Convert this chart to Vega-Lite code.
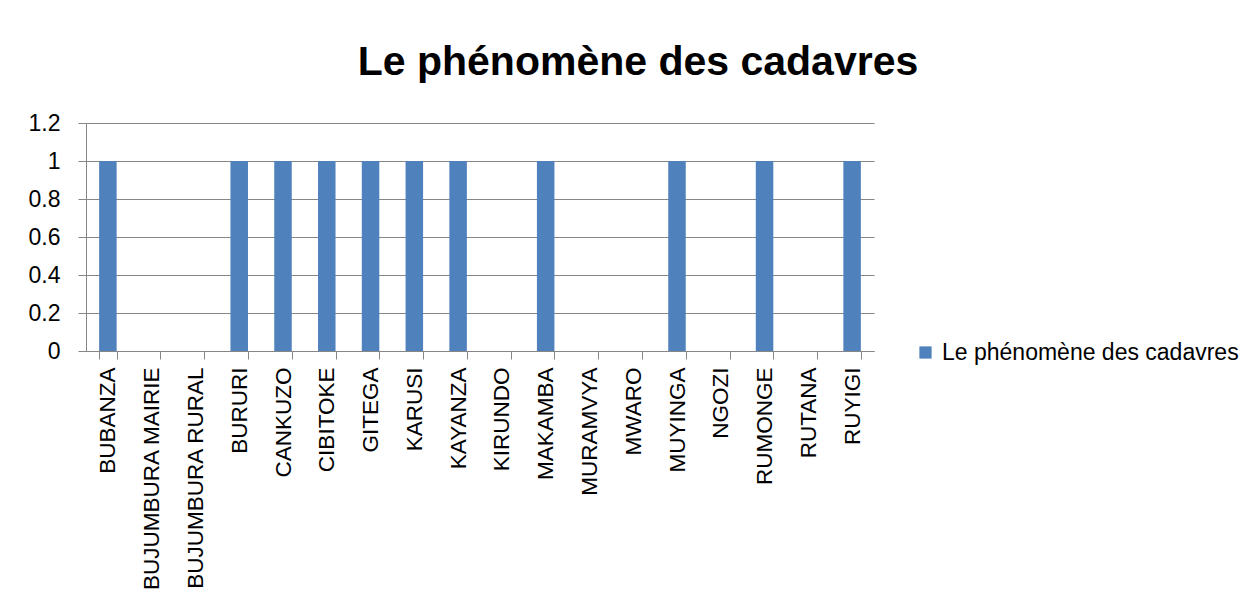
{
  "$schema": "https://vega.github.io/schema/vega-lite/v6.json",
  "autosize": {"type": "none"},
  "width": 788,
  "height": 228,
  "padding": {"left": 86, "top": 123, "right": 385, "bottom": 254},
  "background": "white",
  "title": {
    "text": "Le phénomène des cadavres",
    "font": "Liberation Sans",
    "fontSize": 41,
    "fontWeight": "bold",
    "color": "#000000",
    "anchor": "middle",
    "dx": 158,
    "offset": 28
  },
  "data": {
    "values": [
      {"province": "BUBANZA", "value": 1},
      {"province": "BUJUMBURA MAIRIE", "value": 0},
      {"province": "BUJUMBURA RURAL", "value": 0},
      {"province": "BURURI", "value": 1},
      {"province": "CANKUZO", "value": 1},
      {"province": "CIBITOKE", "value": 1},
      {"province": "GITEGA", "value": 1},
      {"province": "KARUSI", "value": 1},
      {"province": "KAYANZA", "value": 1},
      {"province": "KIRUNDO", "value": 0},
      {"province": "MAKAMBA", "value": 1},
      {"province": "MURAMVYA", "value": 0},
      {"province": "MWARO", "value": 0},
      {"province": "MUYINGA", "value": 1},
      {"province": "NGOZI", "value": 0},
      {"province": "RUMONGE", "value": 1},
      {"province": "RUTANA", "value": 0},
      {"province": "RUYIGI", "value": 1}
    ]
  },
  "mark": {"type": "bar"},
  "encoding": {
    "x": {
      "field": "province",
      "type": "nominal",
      "sort": null,
      "scale": {"paddingInner": 0.6, "paddingOuter": 0.3},
      "axis": {
        "title": null,
        "labelAngle": 270,
        "labelAlign": "right",
        "labelBaseline": "middle",
        "labelFont": "Liberation Sans",
        "labelFontSize": 22.5,
        "labelColor": "#000000",
        "labelPadding": 8,
        "labelLimit": 400,
        "domainColor": "#868686",
        "tickColor": "#868686",
        "tickSize": 8,
        "tickBand": "extent",
        "grid": false
      }
    },
    "y": {
      "field": "value",
      "type": "quantitative",
      "scale": {"domain": [0, 1.2], "nice": false},
      "axis": {
        "title": null,
        "values": [0, 0.2, 0.4, 0.6, 0.8, 1, 1.2],
        "format": "~g",
        "labelFont": "Liberation Sans",
        "labelFontSize": 23,
        "labelColor": "#000000",
        "labelPadding": 18,
        "domainColor": "#868686",
        "tickColor": "#868686",
        "tickSize": 8,
        "gridColor": "#868686",
        "gridWidth": 1
      }
    },
    "color": {
      "datum": "Le phénomène des cadavres",
      "type": "nominal",
      "scale": {"range": ["#4F81BD"]},
      "legend": {
        "title": null,
        "orient": "none",
        "legendX": 828,
        "legendY": 218,
        "symbolType": "square",
        "symbolSize": 150,
        "symbolStrokeWidth": 0,
        "labelFont": "Liberation Sans",
        "labelFontSize": 23,
        "labelColor": "#000000",
        "labelOffset": 5,
        "labelLimit": 400
      }
    }
  },
  "config": {
    "view": {"stroke": null}
  }
}
